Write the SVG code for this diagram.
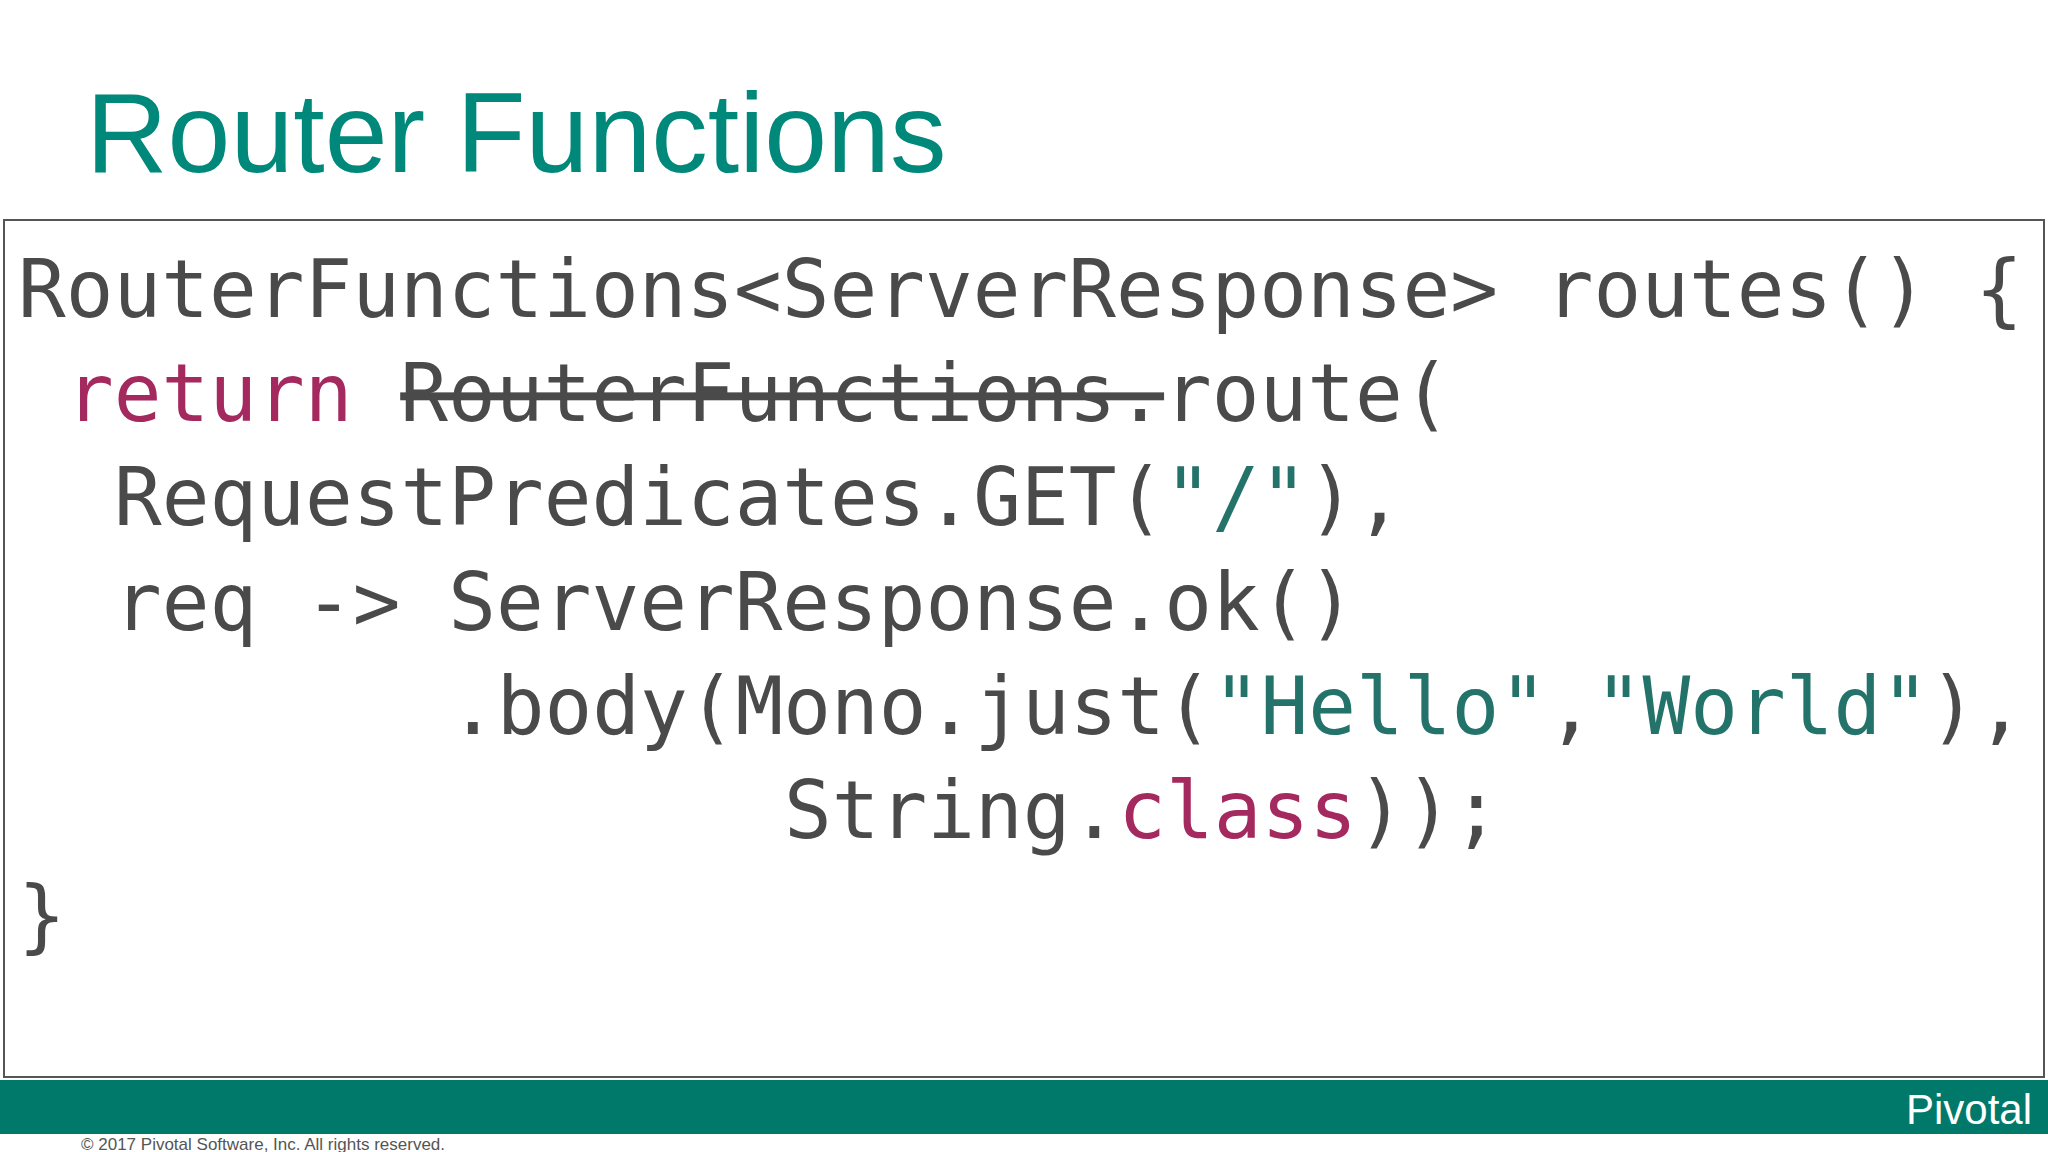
<svg xmlns="http://www.w3.org/2000/svg" width="2048" height="1152" viewBox="0 0 2048 1152">
<style>
.code{font-family:"DejaVu Sans Mono",monospace;font-size:79.3px;fill:#4a4a4a}
.kw{fill:#a3295e}.str{fill:#24736a}.strike{text-decoration:line-through}
</style>
<rect width="2048" height="1152" fill="#fff"/>
<g id="title"><text x="86" y="172" font-family="Liberation Sans, Arial, sans-serif" font-size="113" fill="#00897b">Router Functions</text></g>
<g id="codebox">
<rect x="4" y="220" width="2040" height="857" fill="#fff" stroke="#555" stroke-width="2"/>
<text class="code" x="18" y="317">RouterFunctions&lt;ServerResponse&gt; routes() {</text>
<text class="code" x="66" y="421"><tspan class="kw">return</tspan> <tspan class="strike">RouterFunctions.</tspan>route(</text>
<text class="code" x="114" y="525">RequestPredicates.GET(<tspan class="str">"/"</tspan>),</text>
<text class="code" x="114" y="630">req -&gt; ServerResponse.ok()</text>
<text class="code" x="449" y="734">.body(Mono.just(<tspan class="str">"Hello"</tspan>,<tspan class="str">"World"</tspan>),</text>
<text class="code" x="784" y="838">String.<tspan class="kw">class</tspan>));</text>
<text class="code" x="18" y="943">}</text>
</g>
<g id="footer">
<rect x="0" y="1080" width="2048" height="54" fill="#00786a"/>
<text x="2032" y="1124" text-anchor="end" font-family="Liberation Sans, Arial, sans-serif" font-size="42" fill="#fff">Pivotal</text>
<text x="81" y="1150" font-family="Liberation Sans, Arial, sans-serif" font-size="17" fill="#555">© 2017 Pivotal Software, Inc.  All rights reserved.</text>
</g>
</svg>
